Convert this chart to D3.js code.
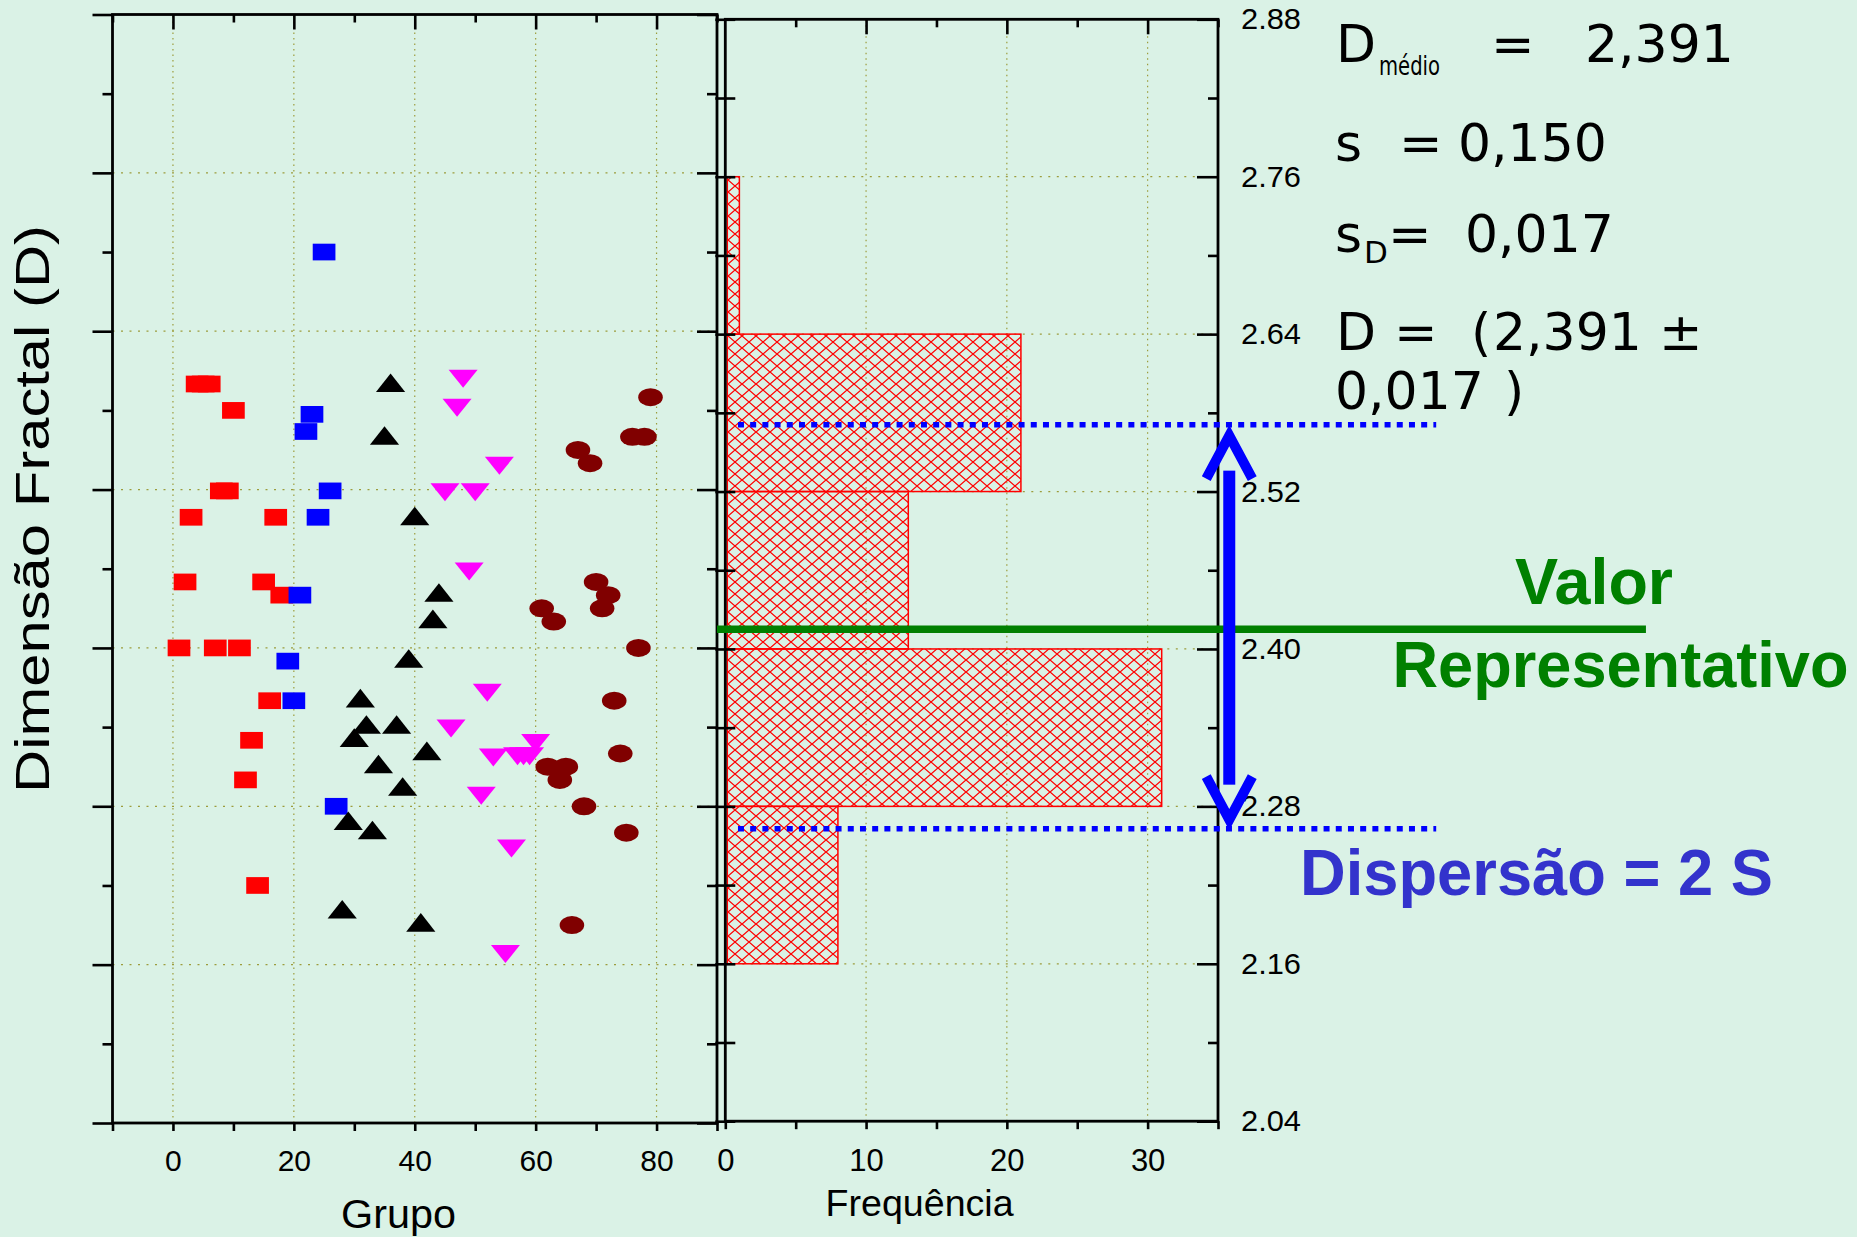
<!DOCTYPE html>
<html>
<head>
<meta charset="utf-8">
<script src="https://cdn.jsdelivr.net/npm/d3@7"></script>
<style>
  html, body { margin: 0; padding: 0; background: #daf2e6; }
  svg { display: block; }
</style>
</head>
<body>
<svg id="chart" width="1857" height="1237"></svg>
<script>
// ---- Fractal dimension of each specimen, by group (x = specimen index) ----
const redX = [1, 2, 3, 4, 5, 6, 7, 8, 9, 10, 11, 12, 13, 14, 15, 16, 17, 18];
const redD = [2.400, 2.450, 2.499, 2.600, 2.600, 2.600, 2.400, 2.519, 2.519, 2.580, 2.400, 2.300, 2.330, 2.220, 2.450, 2.360, 2.499, 2.440];

const blueX = [19, 20, 21, 22, 23, 24, 25, 26, 27];
const blueD = [2.390, 2.360, 2.440, 2.564, 2.577, 2.499, 2.700, 2.519, 2.280];

const blackX = [28, 29, 30, 31, 32, 33, 34, 35, 36, 37, 38, 39, 40, 41, 42, 43, 44];
const blackD = [2.202, 2.269, 2.332, 2.362, 2.342, 2.262, 2.312, 2.561, 2.601, 2.342, 2.295, 2.392, 2.500, 2.192, 2.322, 2.422, 2.442];

const magentaX = [45, 46, 47, 48, 49, 50, 51, 52, 53, 54, 55, 56, 57, 58, 59, 60];
const magentaD = [2.518, 2.339, 2.582, 2.604, 2.458, 2.518, 2.288, 2.366, 2.317, 2.538, 2.168, 2.248, 2.318, 2.318, 2.318, 2.328];

const brownX = [61, 62, 63, 64, 65, 66, 67, 68, 69, 70, 71, 72, 73, 74, 75, 76, 77, 78, 79];
const brownD = [2.430, 2.310, 2.420, 2.300, 2.310, 2.190, 2.550, 2.280, 2.540, 2.450, 2.430, 2.440, 2.360, 2.320, 2.260, 2.560, 2.400, 2.560, 2.590];

// ---- Histogram of D (class width 0.12) ----
const binStart = [2.16, 2.28, 2.40, 2.52, 2.64];
const binWidth = 0.12;
const binCount = [8, 31, 13, 21, 1];

// ---- Axis ticks ----
const dMajor = [2.04, 2.16, 2.28, 2.40, 2.52, 2.64, 2.76, 2.88];
const dMinor = [2.10, 2.22, 2.34, 2.46, 2.58, 2.70, 2.82];
const dLabels = ["2.04", "2.16", "2.28", "2.40", "2.52", "2.64", "2.76", "2.88"];
const grupoMajor = [0, 20, 40, 60, 80];
const grupoMinor = [-10, 10, 30, 50, 70, 90];
const freqMajor = [0, 10, 20, 30];
const freqMinor = [5, 15, 25, 35];

// ---- Annotation values ----
const representativeD = 2.415;      // green line
const dispersionUpper = 2.571;      // blue dotted lines
const dispersionLower = 2.263;

const svg = d3.select("#chart");
const BG = "#daf2e6";
svg.append("rect").attr("width", 1857).attr("height", 1237).attr("fill", BG);

// Scales
const xL = d3.scaleLinear().domain([-10, 90]).range([112.5, 717]);
const yL = d3.scaleLinear().domain([2.04, 2.88]).range([1123, 14.5]);
const xH = d3.scaleLinear().domain([0, 35]).range([725.3, 1218]);
const yH = d3.scaleLinear().domain([2.04, 2.88]).range([1121.2, 19.3]);

const defs = svg.append("defs");
const pat = defs.append("pattern")
  .attr("id", "hatch").attr("patternUnits", "userSpaceOnUse")
  .attr("width", 14).attr("height", 12);
pat.append("path").attr("d", "M0,0L14,12M14,0L0,12")
  .attr("stroke", "#ff0000").attr("stroke-width", 1.3).attr("fill", "none");

const GRID = "#9c9c3c";
const FONT = "'Liberation Sans', Arial, sans-serif";

function grid(g, xs, ys, x, y) {
  g.selectAll(".gv").data(xs).join("line")
    .attr("x1", d => x(d)).attr("x2", d => x(d))
    .attr("y1", y.range()[0]).attr("y2", y.range()[1])
    .attr("stroke", GRID).attr("stroke-width", 1.2).attr("stroke-dasharray", "1.5 4");
  g.selectAll(".gh").data(ys).join("line")
    .attr("y1", d => y(d)).attr("y2", d => y(d))
    .attr("x1", x.range()[0]).attr("x2", x.range()[1])
    .attr("stroke", GRID).attr("stroke-width", 1.2).attr("stroke-dasharray", "2 6.5");
}

function styleAxis(g) {
  g.select(".domain").remove();
  g.selectAll(".tick line").attr("stroke", "#000").attr("stroke-width", 2.6);
  g.selectAll(".tick text").attr("fill", "#000").attr("font-family", FONT);
}

// ================= Left panel: scatter by group =================
const left = svg.append("g");
grid(left, grupoMajor, dMajor.slice(1, -1), xL, yL);

// y ticks (left side outward, right side inward)
left.append("g").attr("transform", `translate(${xL(-10)},0)`)
  .call(d3.axisLeft(yL).tickValues(dMajor).tickSize(20).tickFormat(""))
  .call(styleAxis);
left.append("g").attr("transform", `translate(${xL(-10)},0)`)
  .call(d3.axisLeft(yL).tickValues(dMinor).tickSize(10).tickFormat(""))
  .call(styleAxis);
left.append("g").attr("transform", `translate(${xL(90)},0)`)
  .call(d3.axisLeft(yL).tickValues(dMajor).tickSize(20).tickFormat(""))
  .call(styleAxis);
left.append("g").attr("transform", `translate(${xL(90)},0)`)
  .call(d3.axisLeft(yL).tickValues(dMinor).tickSize(10).tickFormat(""))
  .call(styleAxis);
// x ticks
left.append("g").attr("transform", `translate(0,${yL(2.04)})`)
  .call(d3.axisBottom(xL).tickValues(grupoMajor).tickSize(8).tickPadding(19).tickFormat(d3.format("d")))
  .call(styleAxis)
  .call(g => g.selectAll(".tick text").attr("font-size", 30));
left.append("g").attr("transform", `translate(0,${yL(2.04)})`)
  .call(d3.axisBottom(xL).tickValues(grupoMinor).tickSize(8).tickFormat(""))
  .call(styleAxis);
left.append("g").attr("transform", `translate(0,${yL(2.88)})`)
  .call(d3.axisBottom(xL).tickValues(grupoMajor).tickSize(15).tickFormat(""))
  .call(styleAxis);
left.append("g").attr("transform", `translate(0,${yL(2.88)})`)
  .call(d3.axisBottom(xL).tickValues(grupoMinor).tickSize(8).tickFormat(""))
  .call(styleAxis);

// markers
const pts = (xs, ds) => xs.map((x, i) => ({ x, d: ds[i] }));
left.append("g").selectAll("rect").data(pts(redX, redD)).join("rect")
  .attr("x", p => xL(p.x) - 11.35).attr("y", p => yL(p.d) - 8.35)
  .attr("width", 22.7).attr("height", 16.7).attr("fill", "#ff0000");
left.append("g").selectAll("rect").data(pts(blueX, blueD)).join("rect")
  .attr("x", p => xL(p.x) - 11.35).attr("y", p => yL(p.d) - 8.35)
  .attr("width", 22.7).attr("height", 16.7).attr("fill", "#0000ff");
left.append("g").selectAll("path").data(pts(blackX, blackD)).join("path")
  .attr("transform", p => `translate(${xL(p.x)},${yL(p.d)})`)
  .attr("d", "M0,-9.3L14.6,9.3L-14.6,9.3Z").attr("fill", "#000");
left.append("g").selectAll("path").data(pts(magentaX, magentaD)).join("path")
  .attr("transform", p => `translate(${xL(p.x)},${yL(p.d)})`)
  .attr("d", "M-14.5,-9L14.5,-9L0,9Z").attr("fill", "#ff00ff");
left.append("g").selectAll("ellipse").data(pts(brownX, brownD)).join("ellipse")
  .attr("cx", p => xL(p.x)).attr("cy", p => yL(p.d))
  .attr("rx", 12.3).attr("ry", 9).attr("fill", "#800000");

left.append("rect")
  .attr("x", xL(-10)).attr("y", yL(2.88))
  .attr("width", xL(90) - xL(-10)).attr("height", yL(2.04) - yL(2.88))
  .attr("fill", "none").attr("stroke", "#000").attr("stroke-width", 2.8);

left.append("text").text("Grupo")
  .attr("x", 398.5).attr("y", 1228).attr("text-anchor", "middle")
  .attr("font-family", FONT).attr("font-size", 40)
  .attr("textLength", 115).attr("lengthAdjust", "spacingAndGlyphs");

left.append("text").text("Dimensão Fractal (D)")
  .attr("transform", "translate(49,509) rotate(-90)")
  .attr("text-anchor", "middle")
  .attr("font-family", FONT).attr("font-size", 49)
  .attr("textLength", 568).attr("lengthAdjust", "spacingAndGlyphs");

// ================= Right panel: histogram =================
const hist = svg.append("g");
grid(hist, freqMajor.slice(1), dMajor.slice(1, -1), xH, yH);

hist.append("g").selectAll("rect").data(binStart.map((b, i) => ({ b, n: binCount[i] }))).join("rect")
  .attr("x", xH(0) + 2).attr("y", d => yH(d.b + binWidth))
  .attr("width", d => xH(d.n) - xH(0) - 2)
  .attr("height", d => yH(d.b) - yH(d.b + binWidth))
  .attr("fill", "url(#hatch)").attr("stroke", "#ff0000").attr("stroke-width", 1.5);

// right axis with labels (ticks inward)
hist.append("g").attr("transform", `translate(${xH(35)},0)`)
  .call(d3.axisRight(yH).tickValues(dMajor).tickSize(-21).tickPadding(23)
    .tickFormat((d, i) => dLabels[i]))
  .call(styleAxis)
  .call(g => g.selectAll(".tick text").attr("font-size", 30)
    .attr("textLength", 60).attr("lengthAdjust", "spacingAndGlyphs"));
hist.append("g").attr("transform", `translate(${xH(35)},0)`)
  .call(d3.axisRight(yH).tickValues(dMinor).tickSize(-10).tickFormat(""))
  .call(styleAxis);
// left side ticks crossing the frame
hist.append("g").attr("transform", `translate(${xH(0) + 10},0)`)
  .call(d3.axisLeft(yH).tickValues(dMajor.concat(dMinor)).tickSize(20).tickFormat(""))
  .call(styleAxis);
// x ticks
hist.append("g").attr("transform", `translate(0,${yH(2.04)})`)
  .call(d3.axisBottom(xH).tickValues(freqMajor).tickSize(8).tickPadding(20).tickFormat(d3.format("d")))
  .call(styleAxis)
  .call(g => g.selectAll(".tick text").attr("font-size", 31));
hist.append("g").attr("transform", `translate(0,${yH(2.04)})`)
  .call(d3.axisBottom(xH).tickValues(freqMinor).tickSize(8).tickFormat(""))
  .call(styleAxis);
hist.append("g").attr("transform", `translate(0,${yH(2.88)})`)
  .call(d3.axisBottom(xH).tickValues(freqMajor.slice(1)).tickSize(15).tickFormat(""))
  .call(styleAxis);
hist.append("g").attr("transform", `translate(0,${yH(2.88)})`)
  .call(d3.axisBottom(xH).tickValues(freqMinor).tickSize(8).tickFormat(""))
  .call(styleAxis);

hist.append("rect")
  .attr("x", xH(0)).attr("y", yH(2.88))
  .attr("width", xH(35) - xH(0)).attr("height", yH(2.04) - yH(2.88))
  .attr("fill", "none").attr("stroke", "#000").attr("stroke-width", 2.8);

hist.append("text").text("Frequência")
  .attr("x", 919.6).attr("y", 1216).attr("text-anchor", "middle")
  .attr("font-family", FONT).attr("font-size", 37)
  .attr("textLength", 188).attr("lengthAdjust", "spacingAndGlyphs");

// ================= Annotations =================
const ann = svg.append("g");

// dispersion band limits
[dispersionUpper, dispersionLower].forEach(v => {
  ann.append("line")
    .attr("x1", xH(0.9)).attr("x2", xH(50.5))
    .attr("y1", yH(v)).attr("y2", yH(v))
    .attr("stroke", "#0000ff").attr("stroke-width", 5.5)
    .attr("stroke-dasharray", "6 6.2");
});

// representative value
ann.append("line")
  .attr("x1", xL(90)).attr("x2", xH(65.4))
  .attr("y1", yH(representativeD)).attr("y2", yH(representativeD))
  .attr("stroke", "#008000").attr("stroke-width", 7.5);

// double arrow spanning the dispersion
const ax = xH(35.8);
const tipTop = yH(dispersionUpper) + 11;
const tipBot = yH(dispersionLower) - 9;
ann.append("rect")
  .attr("x", ax - 6).attr("y", tipTop + 35)
  .attr("width", 12).attr("height", (tipBot - 35) - (tipTop + 35))
  .attr("fill", "#0000ff");
ann.append("path")
  .attr("d", `M${ax - 23},${tipTop + 43}L${ax},${tipTop}L${ax + 23},${tipTop + 43}`)
  .attr("fill", "none").attr("stroke", "#0000ff").attr("stroke-width", 10);
ann.append("path")
  .attr("d", `M${ax - 23},${tipBot - 43}L${ax},${tipBot}L${ax + 23},${tipBot - 43}`)
  .attr("fill", "none").attr("stroke", "#0000ff").attr("stroke-width", 10);

const BOLD = "'Liberation Sans', Arial, sans-serif";
ann.append("text").text("Valor")
  .attr("x", 1515).attr("y", 604)
  .attr("font-family", BOLD).attr("font-weight", "bold").attr("font-size", 64)
  .attr("fill", "#008000").attr("textLength", 158).attr("lengthAdjust", "spacingAndGlyphs");
ann.append("text").text("Representativo")
  .attr("x", 1392.5).attr("y", 687)
  .attr("font-family", BOLD).attr("font-weight", "bold").attr("font-size", 64)
  .attr("fill", "#008000").attr("textLength", 456).attr("lengthAdjust", "spacingAndGlyphs");
ann.append("text").text("Dispersão = 2 S")
  .attr("x", 1300).attr("y", 895)
  .attr("font-family", BOLD).attr("font-weight", "bold").attr("font-size", 64)
  .attr("fill", "#3333cc").attr("textLength", 473).attr("lengthAdjust", "spacingAndGlyphs");

// statistics block
const SANS = "'DejaVu Sans', Verdana, sans-serif";
const stats = svg.append("g").attr("font-family", SANS).attr("fill", "#000");
function piece(txt, x, y, size, len) {
  const t = stats.append("text").text(txt).attr("x", x).attr("y", y).attr("font-size", size);
  if (len) t.attr("textLength", len).attr("lengthAdjust", "spacingAndGlyphs");
  return t;
}
piece("D", 1336, 61.6, 52);
piece("médio", 1379, 75, 26, 61);
piece("=", 1491, 61.6, 52);
piece("2,391", 1585, 61.6, 52);

piece("s", 1335, 161, 52);
piece("=", 1399, 161, 52);
piece("0,150", 1458, 161, 52);

piece("s", 1335, 251.5, 52);
piece("D", 1364, 263, 31);
piece("=", 1388, 251.5, 52);
piece("0,017", 1465, 251.5, 52);

piece("D", 1336, 350, 52);
piece("=", 1394, 350, 52);
piece("(", 1471, 350, 52);
piece("2,391", 1493, 350, 52);
piece("±", 1659, 350, 52);

piece("0,017", 1335, 408.5, 52);
piece(")", 1504, 408.5, 52);
</script>
</body>
</html>
